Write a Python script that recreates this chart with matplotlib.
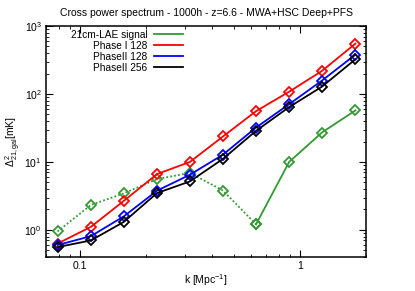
import matplotlib
matplotlib.use('Agg')
import matplotlib.pyplot as plt
from matplotlib.lines import Line2D
from matplotlib.ticker import FixedLocator, FixedFormatter, NullFormatter, LogLocator

plt.rcParams['font.family'] = ['Liberation Sans', 'DejaVu Sans']
plt.rcParams['mathtext.fontset'] = 'custom'
plt.rcParams['mathtext.rm'] = 'Liberation Sans'
plt.rcParams['mathtext.it'] = 'Liberation Sans'
plt.rcParams['mathtext.default'] = 'regular'

# k-Werte (Mpc^-1)
k = [0.079, 0.112, 0.158, 0.224, 0.316, 0.447, 0.632, 0.894, 1.26, 1.79]

# Signal: erste Punkte gepunktet (negativ), dann durchgezogen
signal = [0.95, 2.33, 3.45, 5.6, 6.9, 3.8, 1.21, 10.0, 27.1, 57.3]
n_dotted = 7

phase1_128 = [0.63, 1.11, 2.67, 6.64, 10.0, 23.7, 55.9, 108, 218, 550]
phase2_128 = [0.60, 0.81, 1.58, 3.78, 6.49, 12.8, 32.1, 70.8, 157, 379]
phase2_256 = [0.56, 0.70, 1.31, 3.49, 5.17, 11.1, 28.7, 64.2, 128, 324]

labels = ['21cm-LAE signal', 'Phase I 128', 'PhaseII 128', 'PhaseII 256']
green = '#339933'

fig = plt.figure(figsize=(4.15, 2.91), dpi=100)
ax = fig.add_axes([46/415, 34/291, 320/415, 231/291])

mk = dict(marker='D', markersize=5.5, markerfacecolor='none', markeredgewidth=1.3)

ax.plot(k[:n_dotted], signal[:n_dotted], color=green, lw=1.3, linestyle=(0, (1, 1.2)), **mk)
ax.plot(k[n_dotted-1:], signal[n_dotted-1:], color=green, lw=1.3, **mk)
ax.plot(k, phase1_128, color='red', lw=1.3, **mk)
ax.plot(k, phase2_128, color='blue', lw=1.3, **mk)
ax.plot(k, phase2_256, color='black', lw=1.3, **mk)

ax.set_xscale('log')
ax.set_yscale('log')
ax.set_xlim(0.07, 2.0)
ax.set_ylim(0.4, 1000)

ax.xaxis.set_major_locator(FixedLocator([0.1, 1]))
ax.xaxis.set_major_formatter(FixedFormatter(['0.1', '1']))
ax.xaxis.set_minor_locator(LogLocator(base=10, subs=range(2, 10)))
ax.xaxis.set_minor_formatter(NullFormatter())
ax.yaxis.set_major_locator(FixedLocator([1, 10, 100, 1000]))
ax.yaxis.set_major_formatter(FixedFormatter([r'$10^0$', r'$10^1$', r'$10^2$', r'$10^3$']))
ax.yaxis.set_minor_locator(LogLocator(base=10, subs=range(2, 10)))
ax.yaxis.set_minor_formatter(NullFormatter())

ax.tick_params(which='both', direction='in', top=True, right=True, labelsize=7.5)
ax.tick_params(which='major', length=5, width=0.8, pad=3)
ax.tick_params(which='minor', length=2.5, width=0.6)
for s in ax.spines.values():
    s.set_linewidth(1.1)

ax.set_title('Cross power spectrum - 1000h - z=6.6 - MWA+HSC Deep+PFS', fontsize=7.5, pad=7)
ax.set_xlabel(r'k [Mpc$^{-1}$]', fontsize=7.5, labelpad=1)
ax.set_ylabel(r'$\Delta^2_{21,gal}$[mK]', fontsize=7.5, labelpad=1)

handles = [Line2D([], [], color=c, lw=1.3) for c in [green, 'red', 'blue', 'black']]
ax.legend(handles, labels, loc='upper left', bbox_to_anchor=(0.055, 1.015), frameon=False,
          markerfirst=False, fontsize=7.3, handlelength=2.9, handletextpad=0.6,
          labelspacing=0.1, borderpad=0.2)

fig.savefig('out.png', dpi=100)
